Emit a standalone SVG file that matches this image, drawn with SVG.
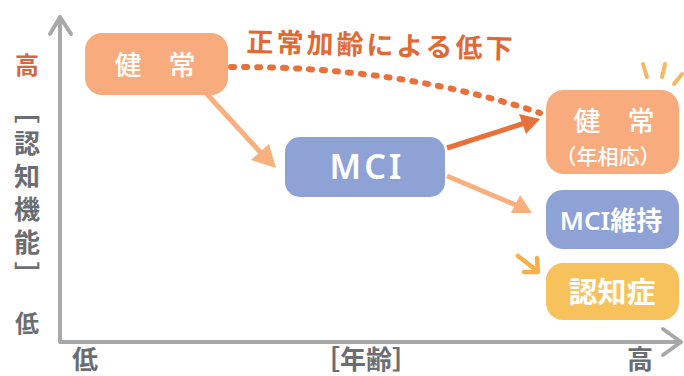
<svg xmlns="http://www.w3.org/2000/svg" width="684" height="376" viewBox="0 0 684 376">
<defs>
<style>
.jp{font-family:"Noto Sans CJK JP","Noto Sans",sans-serif;font-weight:700}
.w{fill:#ffffff;text-anchor:middle}
.peach{fill:#f8ab7c}
.blue{fill:#8fa2d6}
.yel{fill:#f7c25b}
.axis{stroke:#a8a8a8;stroke-width:4;fill:none;stroke-linecap:round;stroke-linejoin:round}
.lbl{fill:#6a6d72;text-anchor:middle;font-size:24px}
.lo{stroke:#f8b07f;stroke-width:5;fill:none}
.ho{fill:#f8b07f}
</style>
</defs>
<rect width="684" height="376" fill="#ffffff"/>
<g id="axes">
<polyline class="axis" points="60,20 60,342 680,342"/>
<polyline class="axis" points="50,34 60,17 71,34"/>
<polyline class="axis" points="663,329 681,342 663,355"/>
</g>
<g id="axis-labels" class="jp">
<text x="27" y="74" class="lbl" style="fill:#d4673f">高</text>
<text x="27" y="97" style="writing-mode:vertical-rl;fill:#6a6d72;font-size:26px;letter-spacing:7px">［認知機能］</text>
<text x="27" y="332" class="lbl">低</text>
<text x="85" y="369" class="lbl" style="font-size:26px">低</text>
<text x="366" y="369" class="lbl" style="font-size:26px">［年齢］</text>
<text x="640" y="369" class="lbl" style="font-size:26px">高</text>
</g>
<g id="connectors">
<path d="M231,67 Q400,66 540,113" stroke="#e8703a" stroke-width="6" fill="none" stroke-linecap="round" stroke-dasharray="3 10"/>
<line class="lo" x1="205" y1="92" x2="262" y2="154"/>
<polygon class="ho" points="276,168 251,160 269,144"/>
<line x1="447" y1="148" x2="525" y2="123" stroke="#e8703a" stroke-width="5"/>
<polygon fill="#e8703a" points="540,119 519,114 526,134"/>
<line class="lo" x1="447" y1="176" x2="518" y2="206"/>
<polygon class="ho" points="532,213 511,213 520,195"/>
<polyline points="518,256 536,270" stroke="#f5b04a" stroke-width="4.5" fill="none" stroke-linecap="round"/>
<polyline points="537,258 538,272 524,272" stroke="#f5b04a" stroke-width="4.5" fill="none" stroke-linecap="round" stroke-linejoin="round"/>
</g>
<g id="label-decline" class="jp">
<text x="381" y="55" text-anchor="middle" font-size="27" fill="#e06a35" letter-spacing="3" transform="rotate(1.5 381 45)">正常加齢による低下</text>
</g>
<g id="node-kenjo" class="jp">
<rect x="85" y="33" width="143" height="62" rx="17" class="peach"/>
<text x="155" y="75" class="w" font-size="27" font-weight="500">健　常</text>
</g>
<g id="node-mci" class="jp">
<rect x="285" y="137" width="160" height="60" rx="15" class="blue"/>
<text x="367" y="179" class="w" font-size="34" style="font-family:'Noto Sans',sans-serif;font-weight:600;letter-spacing:3px">MCI</text>
</g>
<g id="node-kenjo-age" class="jp">
<rect x="546" y="90" width="133" height="84" rx="18" class="peach"/>
<text x="614" y="131" class="w" font-size="27" font-weight="500">健　常</text>
<text x="608" y="164" class="w" font-size="21" font-weight="500">（年相応）</text>
</g>
<g id="sparkle">
<g stroke="#f8b862" stroke-width="4" stroke-linecap="round">
<line x1="643" y1="64" x2="647" y2="77"/>
<line x1="665" y1="64" x2="662" y2="77"/>
<line x1="682" y1="74" x2="674" y2="84"/>
</g>
</g>
<g id="node-mci-keep" class="jp">
<rect x="546" y="190" width="133" height="59" rx="17" class="blue"/>
<text x="611" y="230" class="w" font-size="26"><tspan style="font-family:'Noto Sans',sans-serif;font-weight:600">MCI</tspan>維持</text>
</g>
<g id="node-dementia" class="jp">
<rect x="546" y="263" width="133" height="57" rx="17" class="yel"/>
<text x="612" y="303" class="w" font-size="29">認知症</text>
</g>
</svg>
